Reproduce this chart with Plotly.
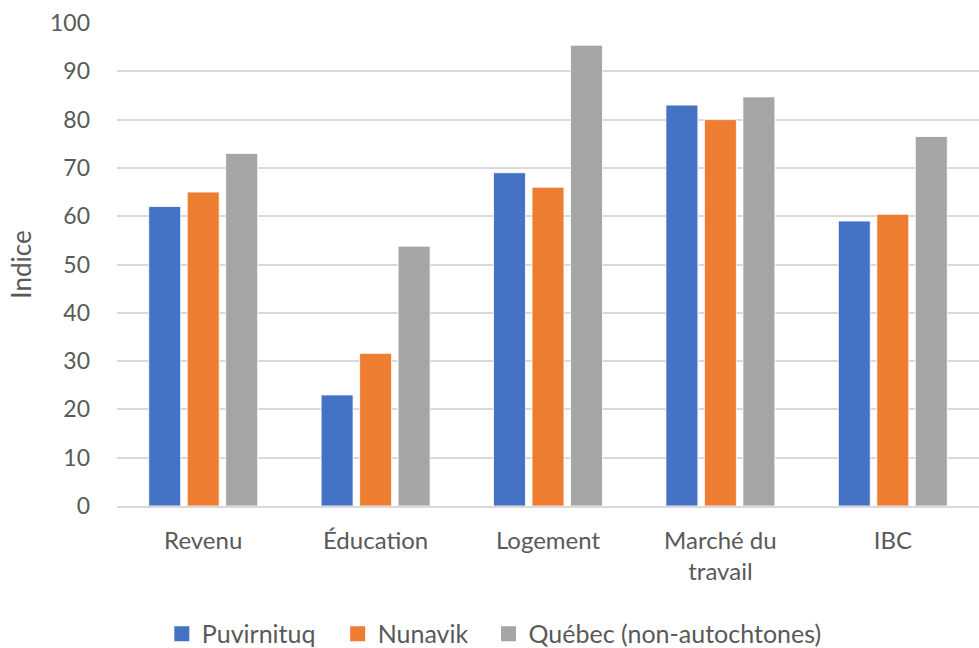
import plotly.graph_objects as go

# Indices by dimension
categories = ["Revenu", "Éducation", "Logement", "Marché du<br>travail", "IBC"]
puvirnituq = [62.0, 23.0, 69.0, 83.0, 59.0]
nunavik = [65.0, 31.6, 66.0, 80.0, 60.4]
quebec = [73.0, 53.8, 95.4, 84.7, 76.5]

series_names = ["Puvirnituq", "Nunavik", "Québec (non-autochtones)"]
series_colors = ["#4472C4", "#ED7D31", "#A5A5A5"]
y_ticks = [0, 10, 20, 30, 40, 50, 60, 70, 80, 90, 100]

FONT = "Lato, 'Open Sans', sans-serif"
TEXT = "#595959"

fig = go.Figure()
for name, vals, col in zip(series_names, [puvirnituq, nunavik, quebec], series_colors):
    fig.add_trace(go.Bar(
        x=categories, y=vals, name=name, showlegend=False,
        marker=dict(color=col, line=dict(color="white", width=0.8)),
    ))

# Legend keys drawn as square markers, one legend box per series
legend_ids = ["legend", "legend2", "legend3"]
legend_x = [0.052, 0.256, 0.431]
for name, col, lid in zip(series_names, series_colors, legend_ids):
    fig.add_trace(go.Scatter(
        x=[None], y=[None], mode="markers", name=name, legend=lid,
        marker=dict(symbol="square", size=15, color=col),
    ))

legend_style = dict(
    orientation="h", xanchor="left", y=-0.265, yanchor="middle",
    font=dict(size=25, color=TEXT), itemwidth=30, itemsizing="trace",
    bgcolor="rgba(0,0,0,0)",
)
fig.update_layout(
    width=979, height=648,
    margin=dict(l=117, r=0, t=23, b=142, autoexpand=False),
    paper_bgcolor="white", plot_bgcolor="white",
    barmode="group", bargap=0.33, bargroupgap=0.17,
    font=dict(family=FONT, size=23, color=TEXT),
    showlegend=True,
    legend=dict(x=legend_x[0], **legend_style),
    legend2=dict(x=legend_x[1], **legend_style),
    legend3=dict(x=legend_x[2], **legend_style),
)
fig.update_yaxes(
    range=[0, 100], tickvals=y_ticks, showgrid=True, gridcolor="#D9D9D9", gridwidth=2,
    zeroline=False, showline=False, ticks="", ticklabelstandoff=26,
    tickfont=dict(size=23, color=TEXT), automargin=False,
    title=dict(text="Indice", font=dict(size=26, color=TEXT), standoff=10),
)
fig.update_xaxes(
    showline=True, linecolor="#D9D9D9", linewidth=2, showgrid=False, ticks="",
    tickfont=dict(size=24, color=TEXT), ticklabelstandoff=12, automargin=False,
)

fig.write_html("out.html")
